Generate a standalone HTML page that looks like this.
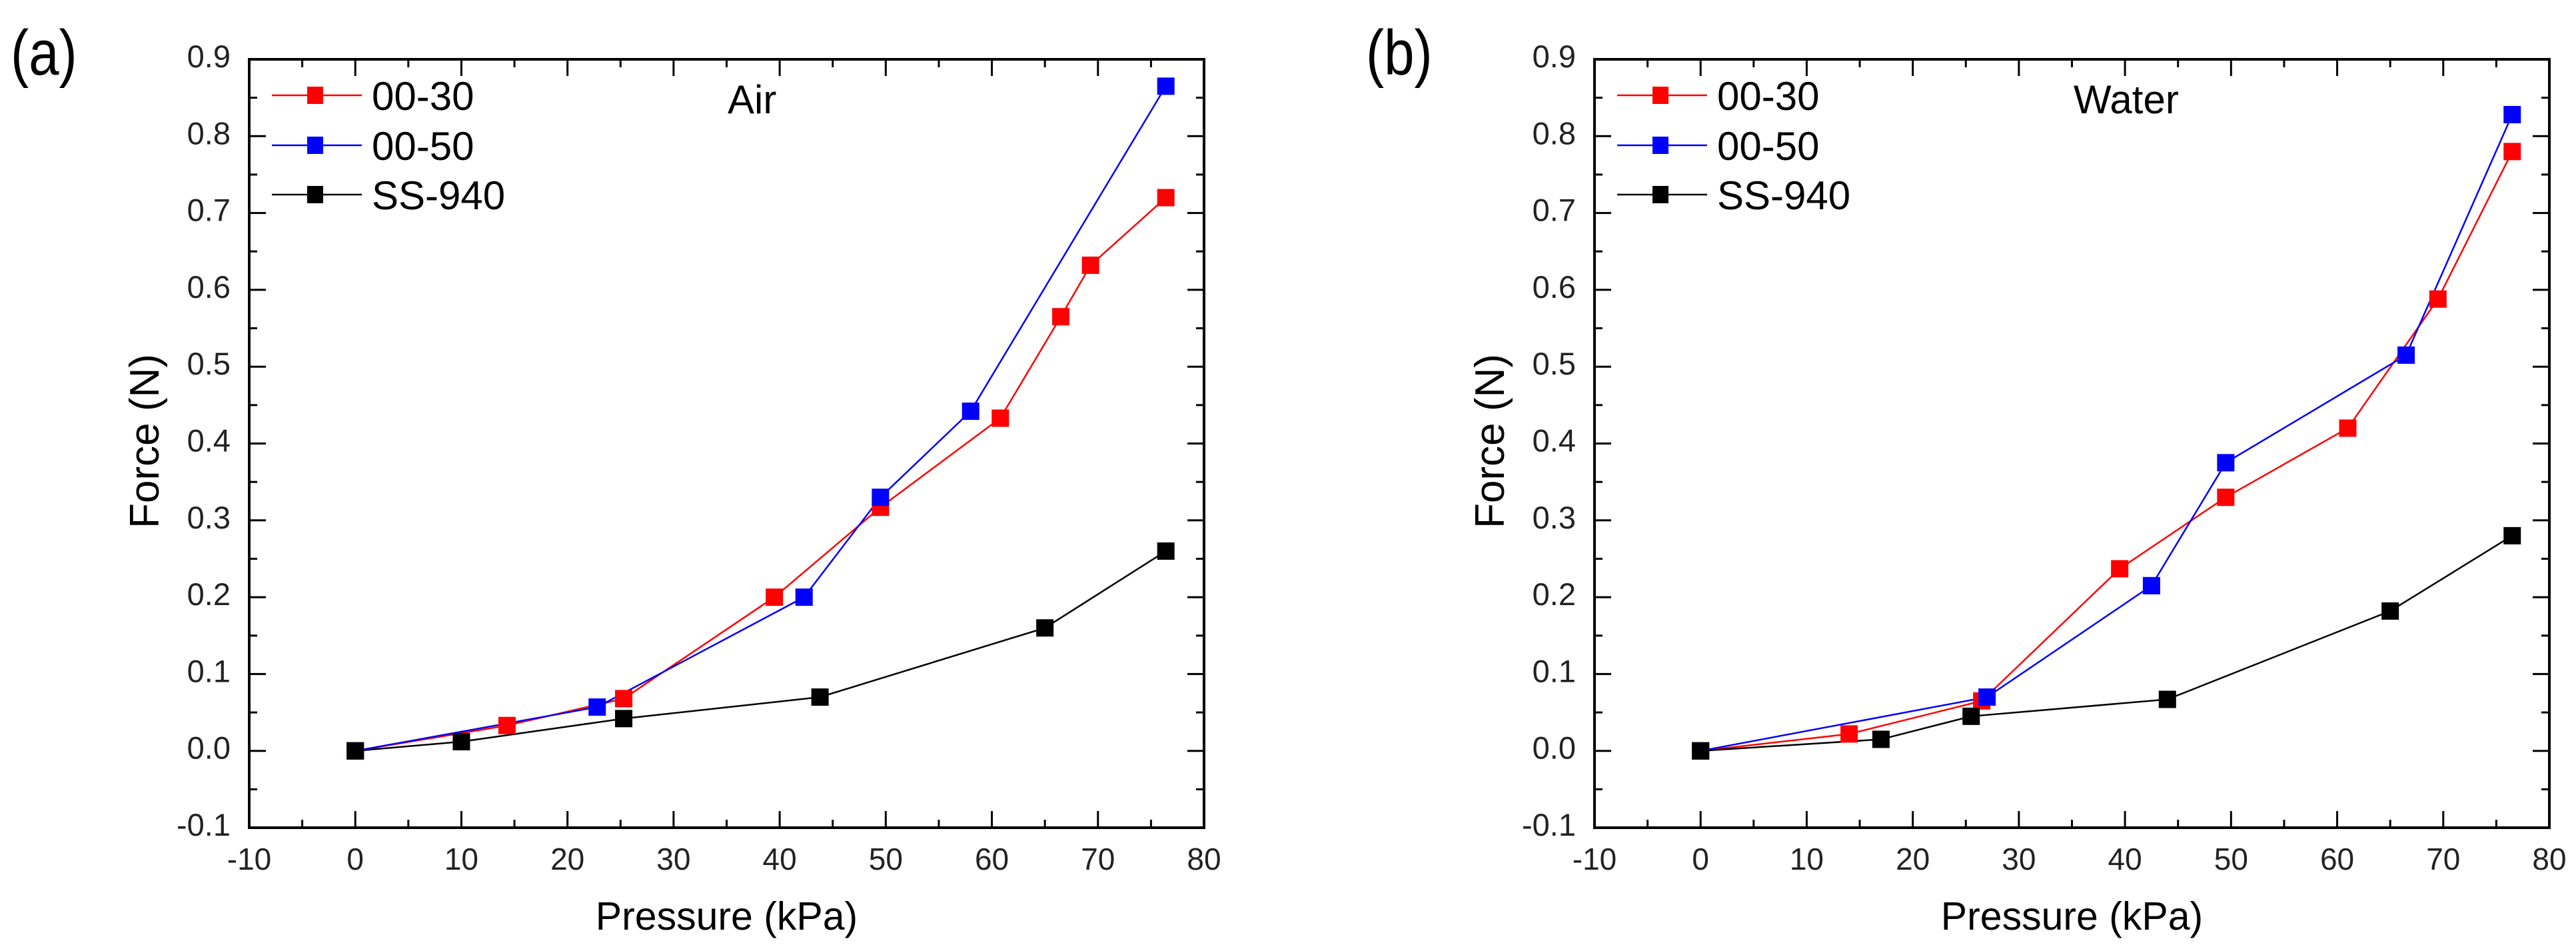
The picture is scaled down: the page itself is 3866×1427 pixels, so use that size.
<!DOCTYPE html>
<html><head><meta charset="utf-8"><style>
html,body{margin:0;padding:0;background:#fff;}
svg{display:block;font-family:"Liberation Sans",Arial,sans-serif;}
</style></head><body>
<svg id="fig" width="3866" height="1427" viewBox="0 0 3866 1427"></svg>
<script>
const xTicks=[-10,0,10,20,30,40,50,60,70,80];
const yTicks=[-0.1,0.0,0.1,0.2,0.3,0.4,0.5,0.6,0.7,0.8,0.9];
const seriesNames=["00-30","00-50","SS-940"];
const seriesColors=["#ff0000","#0000ff","#000000"];
// Panel (a) Air
const airX30=[0,14.3,25.3,39.5,49.5,60.8,66.5,69.3,76.4];
const airY30=[0,0.033,0.068,0.2,0.317,0.433,0.565,0.632,0.72];
const airX50=[0,22.8,42.3,49.5,58,76.4];
const airY50=[0,0.057,0.2,0.33,0.442,0.865];
const airXSS=[0,10,25.3,43.8,65,76.4];
const airYSS=[0,0.012,0.042,0.07,0.16,0.26];
// Panel (b) Water
const watX30=[0,14,26.5,39.5,49.5,61,69.5,76.5];
const watY30=[0,0.022,0.065,0.237,0.33,0.42,0.588,0.78];
const watX50=[0,27,42.5,49.5,66.5,76.5];
const watY50=[0,0.07,0.215,0.375,0.515,0.828];
const watXSS=[0,17,25.5,44,65,76.5];
const watYSS=[0,0.015,0.045,0.067,0.182,0.28];

const NS="http://www.w3.org/2000/svg";
const svg=document.getElementById('fig');
function mk(tag,attrs,parent){const e=document.createElementNS(NS,tag);for(const k in attrs)e.setAttribute(k,attrs[k]);(parent||svg).appendChild(e);return e;}

function panel(cfg){
  const L=cfg.left,R=cfg.left+1433,T=89,B=1242;
  const sx=v=>L+(v-(-10))/90*(R-L);
  const sy=v=>B-(v-(-0.1))/1.0*(B-T);
  const g=mk('g',{});
  
  
  for(let i=0;i<xTicks.length;i++){
    const v=xTicks[i],x=sx(v);
    const t1=mk('line',{x1:x,y1:B,x2:x,y2:B-25,stroke:'#000','stroke-width':3},g);
    
    mk('line',{x1:x,y1:T,x2:x,y2:T+25,stroke:'#000','stroke-width':3},g);
    if(i<xTicks.length-1){const xm=sx(v+5);
      mk('line',{x1:xm,y1:B,x2:xm,y2:B-12,stroke:'#000','stroke-width':3},g);
      mk('line',{x1:xm,y1:T,x2:xm,y2:T+12,stroke:'#000','stroke-width':3},g);}
    const tl=mk('text',{x:x,y:1305,'font-size':46,'text-anchor':'middle',fill:'#222'},g);
    tl.textContent=String(v);
    
  }
  for(let i=0;i<yTicks.length;i++){
    const v=yTicks[i],y=sy(v);
    mk('line',{x1:L,y1:y,x2:L+25,y2:y,stroke:'#000','stroke-width':3},g);
    mk('line',{x1:R,y1:y,x2:R-25,y2:y,stroke:'#000','stroke-width':3},g);
    if(i<yTicks.length-1){const ym=sy(v+0.05);
      mk('line',{x1:L,y1:ym,x2:L+12,y2:ym,stroke:'#000','stroke-width':3},g);
      mk('line',{x1:R,y1:ym,x2:R-12,y2:ym,stroke:'#000','stroke-width':3},g);}
    const tl=mk('text',{x:L-28,y:y+12,'font-size':47,'text-anchor':'end',fill:'#222'},g);
    tl.textContent=v.toFixed(1);
    
  }
  const fr=mk('rect',{x:L,y:T,width:R-L,height:B-T,fill:'none',stroke:'#000','stroke-width':4},g);
  
  const xs=[cfg.x30,cfg.x50,cfg.xSS],ys=[cfg.y30,cfg.y50,cfg.ySS];
  for(let s=0;s<3;s++){
    const pts=xs[s].map((v,i)=>sx(v)+','+sy(ys[s][i])).join(' ');
    const pl=mk('polyline',{points:pts,fill:'none',stroke:seriesColors[s],'stroke-width':2.5},g);
    
    
  }
  for(let s=0;s<3;s++){
    for(let i=0;i<xs[s].length;i++){
      const r=mk('rect',{x:sx(xs[s][i])-13,y:sy(ys[s][i])-13,width:26,height:26,fill:seriesColors[s]},g);
      
      
    }
  }
  const rowsY=[143,218,292];
  for(let s=0;s<3;s++){
    const lg=mk('g',{},g);
    
    
    mk('line',{x1:L+34,y1:rowsY[s],x2:L+169,y2:rowsY[s],stroke:seriesColors[s],'stroke-width':2.5},lg);
    mk('rect',{x:L+99-12,y:rowsY[s]-13,width:24,height:26,fill:seriesColors[s]},lg);
    const t=mk('text',{x:L+184,y:rowsY[s]+22,'font-size':60,fill:'#000'},lg);
    t.textContent=seriesNames[s];
  }
  const cond=mk('text',{x:cfg.condX,y:170,'font-size':60,fill:'#000'},g);
  cond.textContent=cfg.cond;
  
  const xt=mk('text',{x:(L+R)/2,y:1395,'font-size':59,'text-anchor':'middle',fill:'#000'},g);
  xt.textContent='Pressure (kPa)';
  
  const yt=mk('text',{x:0,y:0,'font-size':62,'text-anchor':'middle',fill:'#000',transform:'translate('+(L-136)+',662) rotate(-90)'},g);
  yt.textContent='Force (N)';
  
  const pl=mk('text',{x:cfg.labelX,y:112,'font-size':96,fill:'#000',transform:'translate('+cfg.labelX+',0) scale(0.85,1) translate('+(-cfg.labelX)+',0)'},g);
  pl.textContent=cfg.label;
  
}
panel({id:'air',left:374,x30:airX30,y30:airY30,x50:airX50,y50:airY50,xSS:airXSS,ySS:airYSS,cond:'Air',condX:1092,label:'(a)',labelX:16});
panel({id:'water',left:2393,x30:watX30,y30:watY30,x50:watX50,y50:watY50,xSS:watXSS,ySS:watYSS,cond:'Water',condX:3112,label:'(b)',labelX:2050});
</script>
</body></html>
